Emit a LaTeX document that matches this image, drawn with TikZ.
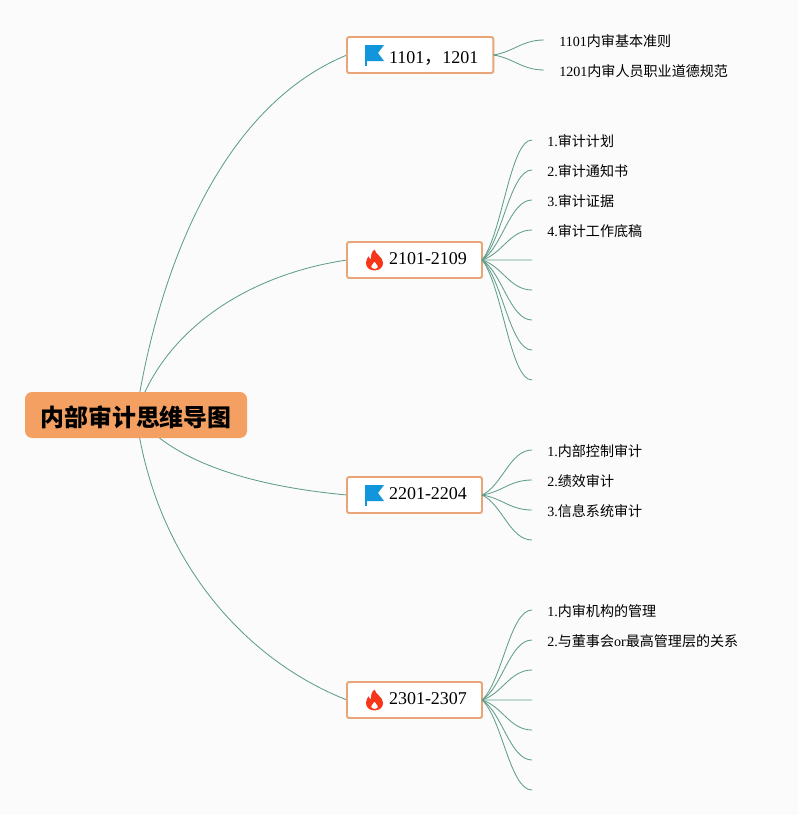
\documentclass[tikz,border=0pt]{standalone}
\usepackage{fontspec}
\setmainfont{Liberation Serif}
\newfontfamily\cjk{Noto Sans CJK SC}
\usetikzlibrary{calc,backgrounds}

\definecolor{paper}{HTML}{FBFBFB}
\definecolor{rootfill}{HTML}{F4A062}
\definecolor{boxline}{HTML}{E9A478}
\definecolor{linkline}{HTML}{5F9E8A}
\definecolor{flagblue}{HTML}{1296DB}
\definecolor{flamered}{HTML}{F5361A}

\tikzset{
  rootbox/.style={fill=rootfill,rounded corners=5pt,minimum width=222*0.025cm,minimum height=46*0.025cm,inner sep=0pt,text height=15pt,text depth=2pt,font=\cjk\bfseries\fontsize{17}{20}\selectfont},
  branchbox/.style={draw=boxline,fill=white,line width=1.4pt,outer sep=0pt,rounded corners=1.5pt,minimum height=36*0.025cm,inner ysep=0pt,inner xsep=15*0.025cm,text height=8.65pt,text depth=2.2pt,anchor=west,font=\fontsize{12.8}{15}\selectfont},
  leaftext/.style={anchor=west,inner xsep=15*0.025cm,inner ysep=0pt,yshift=-0.7pt,font=\fontsize{10}{12}\selectfont},
  link/.style={draw=linkline,line width=0.6pt},
  flag/.pic={
    \fill[flagblue] (-9.5,-10) -- (9.5,-10) -- (3.5,-2) -- (9.5,6) -- (-9.5,6) -- cycle;
    \fill[flagblue] (-9.5,-10) rectangle (-8,10.5);
  },
  flame/.pic={
    \fill[flamered,even odd rule,scale=0.95] (0,-11) .. controls (1,-6) and (9,-3) .. (9,3) .. controls (9,8) and (5,11) .. (0,11)
      .. controls (-5,11) and (-9,8) .. (-9,3) .. controls (-9,0) and (-7,-3) .. (-6,-4)
      .. controls (-6,-2) and (-5,-1) .. (-3.5,-1) .. controls (-4,-5) and (-3,-9) .. (0,-11) -- cycle
      (0,9.5) .. controls (-3,9.5) and (-3.5,7.5) .. (-3.5,6.5) .. controls (-3.5,5) and (-1,4) .. (0,1.5)
      .. controls (1,4) and (3.5,5) .. (3.5,6.5) .. controls (3.5,8) and (3,9.5) .. (0,9.5) -- cycle;
  },
}

\newcommand{\branchlink}[2]{\draw[link] (#1.east) .. controls ($($(#1.east)!.2!(#2)$)+(10,0)$) and ($(#2)+(-22,0)$) .. (#2);}

\begin{document}
\begin{tikzpicture}[x=0.025cm,y=-0.025cm]

\useasboundingbox (0,0) rectangle (798,815);

% Draw the nodes
\node[rootbox] (root) at (136,415) {\raisebox{-1.4pt}{内部审计思维导图}};
\node[branchbox] (b1) at (347,55) {\hspace*{27\dimexpr0.025cm\relax}\raisebox{-2.8pt}{1101{\cjk ，}1201}};
\node[branchbox] (b2) at (347,260) {\hspace*{27\dimexpr0.025cm\relax}2101-2109};
\node[branchbox] (b3) at (347,495) {\hspace*{27\dimexpr0.025cm\relax}2201-2204};
\node[branchbox] (b4) at (347,700) {\hspace*{27\dimexpr0.025cm\relax}2301-2307};

% Add the icons
\pic at ($(b1.west)+(27.5,0)$) {flag};
\pic at ($(b2.west)+(27.5,0)$) {flame};
\pic at ($(b3.west)+(27.5,0)$) {flag};
\pic at ($(b4.west)+(27.5,0)$) {flame};

% Draw the leaf links
\foreach \n/\y in {1/40,2/70}{
    \coordinate (l1\n) at (544,\y);
    \branchlink{b1}{l1\n}
}
\foreach \n/\y in {1/140,2/170,3/200,4/230,5/260,6/290,7/320,8/350,9/380}{
    \coordinate (l2\n) at (532,\y);
    \branchlink{b2}{l2\n}
}
\foreach \n/\y in {1/450,2/480,3/510,4/540}{
    \coordinate (l3\n) at (532,\y);
    \branchlink{b3}{l3\n}
}
\foreach \n/\y in {1/610,2/640,3/670,4/700,5/730,6/760,7/790}{
    \coordinate (l4\n) at (532,\y);
    \branchlink{b4}{l4\n}
}

% Add the leaf labels
\node[leaftext] (t11) at (l11) {1101{\cjk 内审基本准则}};
\node[leaftext] (t12) at (l12) {1201{\cjk 内审人员职业道德规范}};
\node[leaftext] (t21) at (l21) {1.{\cjk 审计计划}};
\node[leaftext] (t22) at (l22) {2.{\cjk 审计通知书}};
\node[leaftext] (t23) at (l23) {3.{\cjk 审计证据}};
\node[leaftext] (t24) at (l24) {4.{\cjk 审计工作底稿}};
\node[leaftext] (t31) at (l31) {1.{\cjk 内部控制审计}};
\node[leaftext] (t32) at (l32) {2.{\cjk 绩效审计}};
\node[leaftext] (t33) at (l33) {3.{\cjk 信息系统审计}};
\node[leaftext] (t41) at (l41) {1.{\cjk 内审机构的管理}};
\node[leaftext] (t42) at (l42) {2.{\cjk 与董事会}or{\cjk 最高管理层的关系}};

% Draw the root links behind the nodes
\begin{pgfonlayer}{background}
\fill[paper] (0,0) rectangle (798,815);
\draw[link] (root.center) .. controls (160,260) and (225,105) .. (b1.west);
\draw[link] (root.center) .. controls (162,332) and (245,275) .. (b2.west);
\draw[link] (root.center) .. controls (175,465) and (260,487) .. (b3.west);
\draw[link] (root.center) .. controls (155,560) and (245,660) .. (b4.west);
\end{pgfonlayer}

\end{tikzpicture}
\end{document}
